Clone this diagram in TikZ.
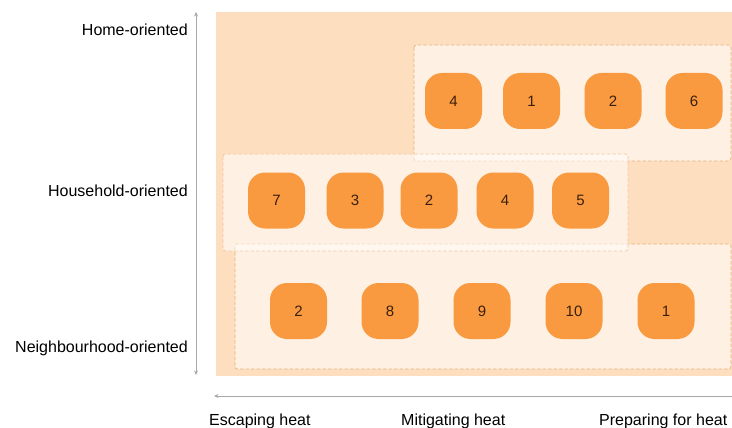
\documentclass[tikz,border=0pt]{standalone}
\usepackage{fontspec}
\setmainfont{Liberation Sans}
\usetikzlibrary{arrows.meta}
\definecolor{peach}{HTML}{FDDEBF}
\definecolor{tileorange}{HTML}{F99A40}
\definecolor{tiletext}{HTML}{3A200C}
\definecolor{dashline}{HTML}{E8B27A}
\definecolor{lightdash}{HTML}{EFC9A0}
\definecolor{axisgray}{HTML}{A8A8A8}
\tikzset{
  x=1pt, y=-1pt,
  tile/.style={fill=tileorange, rounded corners=17pt,
    minimum width=57pt, minimum height=56pt, inner sep=0pt, text=tiletext,
    font=\fontsize{15}{17}\selectfont},
  panel/.style={draw=dashline, dash pattern=on 3.5pt off 2pt, line width=0.7pt,
    fill=white, fill opacity=0.55, rounded corners=2.5pt},
  axis/.style={draw=axisgray, line width=0.8pt, >={Stealth[length=4.5pt,width=4pt]}},
  ylabel/.style={anchor=base east, font=\fontsize{16}{19}\selectfont, inner sep=0pt},
  xlabel/.style={anchor=base west, font=\fontsize{16}{19}\selectfont, inner sep=0pt},
}
\begin{document}
\begin{tikzpicture}
\useasboundingbox (0,0) rectangle (732,428);

% background field
\fill[peach] (216,12) rectangle (740,376);

% dashed group panels
\draw[panel] (414,45) rectangle (731,161);
\draw[panel] (235,244) rectangle (731,369);
\draw[panel, draw=lightdash] (223,154) rectangle (628,251);

% home-oriented measures
\node[tile] (h4) at (453.5,101) {4};
\node[tile] (h1) at (531.5,101) {1};
\node[tile] (h2) at (613,101) {2};
\node[tile] (h6) at (694,101) {6};

% household-oriented measures
\node[tile] (u7) at (276.5,200.5) {7};
\node[tile] (u3) at (355,200.5) {3};
\node[tile] (u2) at (429,200.5) {2};
\node[tile] (u4) at (505,200.5) {4};
\node[tile] (u5) at (580.5,200.5) {5};

% neighbourhood-oriented measures
\node[tile] (n2) at (298.5,311) {2};
\node[tile] (n8) at (390,311) {8};
\node[tile] (n9) at (482,311) {9};
\node[tile] (n10) at (574,311) {10};
\node[tile] (n1) at (666,311) {1};

% axes
\coordinate (vtop) at (196,12);
\coordinate (vbot) at (196,375);
\coordinate (hleft) at (214,396);
\coordinate (hright) at (740,396);
\draw[axis, <->] (vbot) -- (vtop);
\draw[axis, ->] (hright) -- (hleft);

% axis labels
\node[ylabel] (lhome) at (188,35.7) {Home-oriented};
\node[ylabel] (lhouse) at (188,196.5) {Household-oriented};
\node[ylabel] (lneigh) at (188,352.5) {Neighbourhood-oriented};
\node[xlabel] (lesc) at (209,425.5) {Escaping heat};
\node[xlabel] (lmit) at (401,425.5) {Mitigating heat};
\node[xlabel] (lprep) at (599,425.5) {Preparing for heat};
\end{tikzpicture}
\end{document}
